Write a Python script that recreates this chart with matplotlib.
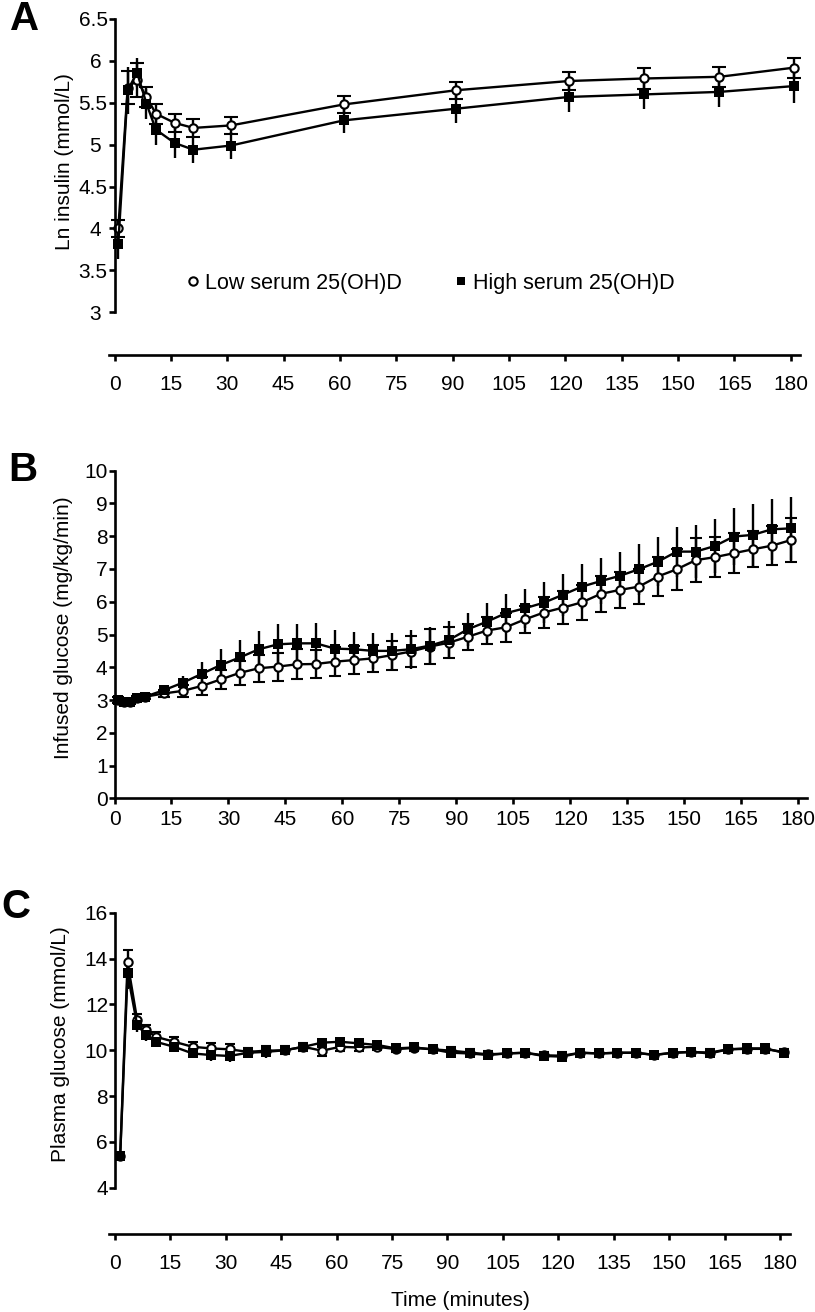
import matplotlib
matplotlib.use('Agg')
import matplotlib.pyplot as plt
from matplotlib.lines import Line2D

plt.rcParams['font.family'] = ['Liberation Sans', 'DejaVu Sans']

# ---- panel A: ln insulin ----
a_time = [1, 3.5, 6, 8.5, 11, 16, 21, 31, 61, 91, 121, 141, 161, 181]
a_low = [4.00, 5.68, 5.77, 5.57, 5.37, 5.26, 5.20, 5.23, 5.48, 5.65, 5.76, 5.79, 5.81, 5.92]
a_low_err = [0.10, 0.20, 0.20, 0.12, 0.12, 0.11, 0.11, 0.10, 0.10, 0.10, 0.11, 0.12, 0.12, 0.12]
a_high = [3.82, 5.65, 5.86, 5.49, 5.18, 5.02, 4.94, 4.99, 5.29, 5.43, 5.57, 5.60, 5.63, 5.70]
a_high_err = [0.18, 0.28, 0.17, 0.18, 0.18, 0.18, 0.16, 0.16, 0.15, 0.17, 0.18, 0.17, 0.18, 0.20]

# ---- panel B: infused glucose ----
b_time = [1, 2.5, 4, 6, 8, 13, 18, 23, 28, 33, 38, 43, 48, 53, 58, 63, 68, 73,
          78, 83, 88, 93, 98, 103, 108, 113, 118, 123, 128, 133, 138, 143, 148,
          153, 158, 163, 168, 173, 178]
b_low = [3.00, 2.95, 2.95, 3.05, 3.10, 3.20, 3.28, 3.43, 3.63, 3.83, 3.97, 4.02, 4.09,
         4.10, 4.17, 4.22, 4.27, 4.37, 4.48, 4.63, 4.75, 4.93, 5.12, 5.22, 5.46,
         5.67, 5.82, 5.98, 6.24, 6.36, 6.46, 6.77, 6.99, 7.27, 7.36, 7.48, 7.60,
         7.71, 7.88]
b_low_err = [0.08, 0.08, 0.08, 0.08, 0.08, 0.10, 0.18, 0.28, 0.30, 0.37, 0.41, 0.43, 0.46,
             0.44, 0.44, 0.43, 0.42, 0.44, 0.46, 0.54, 0.48, 0.40, 0.41, 0.44, 0.42,
             0.48, 0.50, 0.54, 0.56, 0.56, 0.53, 0.60, 0.63, 0.68, 0.62, 0.61, 0.55,
             0.59, 0.68]
b_high = [3.00, 2.95, 2.95, 3.05, 3.10, 3.30, 3.53, 3.80, 4.07, 4.30, 4.55, 4.70, 4.73,
          4.73, 4.57, 4.55, 4.50, 4.50, 4.55, 4.66, 4.83, 5.16, 5.39, 5.65, 5.80,
          5.97, 6.21, 6.46, 6.63, 6.79, 6.99, 7.22, 7.53, 7.53, 7.70, 7.99, 8.04,
          8.21, 8.24]
b_high_err = [0.08, 0.08, 0.08, 0.08, 0.08, 0.10, 0.20, 0.37, 0.48, 0.52, 0.56, 0.61, 0.58,
              0.63, 0.57, 0.52, 0.56, 0.56, 0.59, 0.56, 0.59, 0.51, 0.56, 0.59, 0.59,
              0.62, 0.64, 0.69, 0.69, 0.74, 0.77, 0.75, 0.76, 0.80, 0.82, 0.88, 0.94,
              0.93, 0.97]

# ---- panel C: plasma glucose ----
c_time = [1.4, 3.4, 6, 8.5, 11, 16, 21, 26, 31, 36, 41, 46, 51, 56, 61, 66, 71, 76,
          81, 86, 91, 96, 101, 106, 111, 116, 121, 126, 131, 136, 141, 146, 151,
          156, 161, 166, 171, 176, 181]
c_low = [5.40, 13.83, 11.32, 10.88, 10.59, 10.37, 10.15, 10.08, 10.04, 9.93, 9.98, 10.00,
         10.15, 9.98, 10.15, 10.12, 10.15, 10.05, 10.10, 10.04, 9.98, 9.90, 9.82, 9.86,
         9.89, 9.78, 9.76, 9.89, 9.86, 9.89, 9.89, 9.80, 9.89, 9.92, 9.90, 10.04,
         10.06, 10.06, 9.92]
c_low_err = [0.12, 0.55, 0.25, 0.22, 0.20, 0.20, 0.20, 0.22, 0.22, 0.18, 0.20, 0.18,
             0.18, 0.22, 0.18, 0.16, 0.16, 0.14, 0.14, 0.12, 0.14, 0.14, 0.14, 0.14,
             0.14, 0.16, 0.16, 0.14, 0.14, 0.14, 0.14, 0.14, 0.14, 0.14, 0.16, 0.14,
             0.16, 0.16, 0.14]
c_high = [5.38, 13.35, 11.10, 10.66, 10.37, 10.15, 9.86, 9.79, 9.75, 9.89, 9.93, 10.00,
          10.15, 10.33, 10.37, 10.30, 10.23, 10.08, 10.12, 10.04, 9.89, 9.86, 9.79, 9.86,
          9.89, 9.75, 9.72, 9.89, 9.86, 9.89, 9.89, 9.79, 9.89, 9.93, 9.86, 10.04,
          10.08, 10.08, 9.89]
c_high_err = [0.12, 0.70, 0.30, 0.25, 0.25, 0.22, 0.22, 0.28, 0.28, 0.18, 0.25, 0.18,
              0.16, 0.22, 0.20, 0.18, 0.16, 0.14, 0.14, 0.12, 0.16, 0.14, 0.16, 0.14,
              0.16, 0.18, 0.18, 0.14, 0.14, 0.14, 0.14, 0.16, 0.14, 0.14, 0.20, 0.14,
              0.14, 0.18, 0.16]

x_ticks = [0, 15, 30, 45, 60, 75, 90, 105, 120, 135, 150, 165, 180]
a_yticks = [3, 3.5, 4, 4.5, 5, 5.5, 6, 6.5]
b_yticks = [0, 1, 2, 3, 4, 5, 6, 7, 8, 9, 10]
c_yticks = [4, 6, 8, 10, 12, 14, 16]

W, H = 815, 1312
fig = plt.figure(figsize=(W / 100, H / 100), dpi=100)


def rect(left, right, top, bottom):
    return [left / W, 1 - bottom / H, (right - left) / W, (bottom - top) / H]


def series(ax, t, y, e, low, cap):
    if low:
        kw = dict(marker='o', ms=6, mfc='white', mec='black', mew=1.5)
    else:
        kw = dict(marker='s', ms=7.5, mfc='black', mec='black', mew=0)
    ax.errorbar(t, y, yerr=e, color='black', lw=1.7, elinewidth=1.7,
                capsize=cap, capthick=1.7, clip_on=False, **kw)


def style(ax, xlim, ylim, yticks, ylabels, ybounds, detached, xpad):
    ax.set_xlim(*xlim)
    ax.set_ylim(*ylim)
    for s in ['top', 'right']:
        ax.spines[s].set_visible(False)
    for s in ['left', 'bottom']:
        ax.spines[s].set_linewidth(1.9)
    if detached:
        ax.spines['left'].set_position(('data', 0))
    ax.spines['left'].set_bounds(*ybounds)
    ax.set_xticks(x_ticks)
    ax.set_yticks(yticks)
    ax.set_yticklabels(ylabels)
    ax.tick_params(axis='both', direction='out', length=4.5, width=1.9,
                   labelsize=15, color='black')
    ax.tick_params(axis='y', pad=0.5)
    ax.tick_params(axis='x', pad=xpad)


# panel A
axA = fig.add_axes(rect(108.9, 800.1, 19, 355))
series(axA, a_time, a_low, a_low_err, True, 4.7)
series(axA, a_time, a_high, a_high_err, False, 4.7)
style(axA, (-1.5, 182.5), (2.49, 6.5), a_yticks,
      ['3 ', '3.5', '4 ', '4.5', '5 ', '5.5', '6 ', '6.5'], (3, 6.5), True, 10)
handles = [Line2D([], [], ls='none', marker='o', ms=6, mfc='white', mec='black', mew=1.5),
           Line2D([], [], ls='none', marker='s', ms=6, mfc='black', mec='black', mew=0)]
axA.legend(handles, ['Low serum 25(OH)D', 'High serum 25(OH)D'], ncol=2,
           frameon=False, fontsize=15.5, handlelength=0.5, handletextpad=0.3,
           columnspacing=2.5, loc='center left',
           bbox_to_anchor=(188 / W, 1 - 283 / H), bbox_transform=fig.transFigure,
           borderpad=0, borderaxespad=0)

# panel B
axB = fig.add_axes(rect(114.5, 807, 470.7, 798.3))
series(axB, b_time, b_low, b_low_err, True, 4.2)
series(axB, b_time, b_high, b_high_err, False, 4.2)
style(axB, (0, 182.3), (0, 10), b_yticks, [str(v) for v in b_yticks], (0, 10), False, 4)

# panel C
axC = fig.add_axes(rect(109.46, 789.9, 912.7, 1234.3))
series(axC, c_time, c_low, c_low_err, True, 3.8)
series(axC, c_time, c_high, c_high_err, False, 3.8)
style(axC, (-1.5, 182.7), (1.97, 16), c_yticks, [str(v) for v in c_yticks], (4, 16), True, 10)

# axis labels and panel letters
fig.text(64 / W, 1 - 162 / H, 'Ln insulin (mmol/L)', rotation=90, ha='center', va='center', fontsize=15)
fig.text(64 / W, 1 - 628 / H, 'Infused glucose (mg/kg/min)', rotation=90, ha='center', va='center', fontsize=15)
fig.text(61 / W, 1 - 1044 / H, 'Plasma glucose (mmol/L)', rotation=90, ha='center', va='center', fontsize=15)
fig.text(460 / W, 1 - 1300 / H, 'Time (minutes)', ha='center', va='center', fontsize=15)

for letter, x, y in [('A', 10, 19), ('B', 8, 470), ('C', 1, 907)]:
    fig.text(x / W, 1 - y / H, letter, fontsize=29, fontweight='bold', ha='left', va='center')

fig.savefig('out.png', dpi=100)
